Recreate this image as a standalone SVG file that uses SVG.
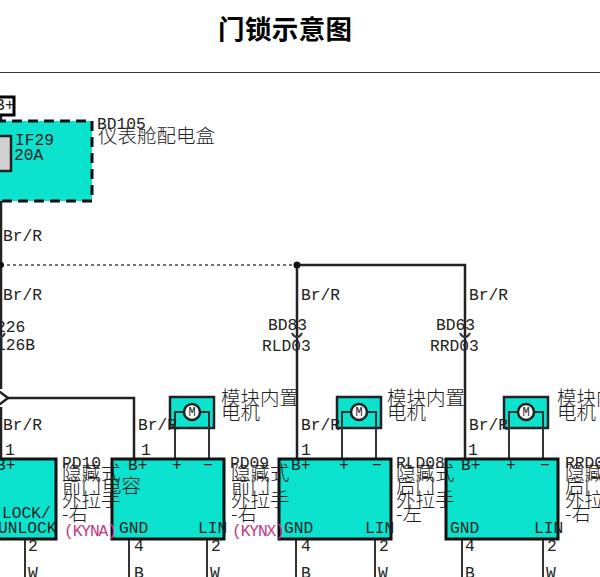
<svg xmlns="http://www.w3.org/2000/svg" width="600" height="577" viewBox="0 0 600 577">
<style>
text{font-family:"Liberation Mono","Noto Sans CJK SC",monospace;font-size:16.300px;fill:#222}
.c{font-family:"Noto Sans CJK SC",serif;font-size:19.500px;font-weight:300;fill:#222}
.p{fill:#c8387e}
.t{font-family:"Noto Sans CJK SC",sans-serif;font-size:26.500px;font-weight:700;fill:#000}
.b{fill:#0be3cf;stroke:#111;stroke-width:3}
.w{fill:none;stroke:#222;stroke-width:2.500}
.k{fill:none;stroke:#333;stroke-width:2}
.g{fill:#0be3cf;stroke:#222;stroke-width:2.500}
.o{fill:#fff;stroke:#222;stroke-width:2.500}
.m{font-size:12px;text-anchor:middle}
</style>
<text class="t" x="218" y="39" textLength="134">门锁示意图</text>
<path d="M0 72.500H600" stroke="#333" stroke-width="1"/>
<g id="connectors">
<path class="w" d="M1 115V389M1 407V458M8 398H134V458M297 265V458M297 265H465V458"/>
<path d="M1 265H297" fill="none" stroke="#444" stroke-width="1.500" stroke-dasharray="3 3"/>
<circle cx="1" cy="265" r="3" fill="#111"/><circle cx="297" cy="265" r="3.500" fill="#111"/>
<path class="k" d="M-3 333Q0 337 1 337Q3 337 5 333M292 333Q294 337 297 337Q300 337 302 333M460 333Q462 337 465 337Q468 337 470 333"/>
<path class="k" d="M25 539V577M129 539V577M207 539V577M296 539V577M375 539V577M462 539V577M543 539V577"/>
</g>
<g id="power-tag"><rect x="-6" y="97" width="20" height="18" fill="#fff" stroke="#000" stroke-width="3"/><text x="-5" y="110" font-size="14">B+</text></g>
<g id="BD105">
<rect x="-4" y="121" width="96" height="80" fill="#0be3cf" stroke="#111" stroke-width="3" stroke-dasharray="10 6"/>
<rect x="-6" y="136" width="17" height="35" fill="#d0d0d0" stroke="#222" stroke-width="2.500"/>
<text x="15" y="145">IF29</text><text x="14" y="160">20A</text>
<text x="97" y="129">BD105</text><text class="c" x="98" y="143">仪表舱配电盒</text>
</g>
<g id="junction"><path d="M-4 389L8 398L-4 407" fill="#fff" stroke="#222" stroke-width="2.500"/></g>
<g id="motor1"><rect class="g" x="170" y="397" width="44" height="31"/><path class="k" d="M175 458V412H209V458"/><circle class="o" cx="192" cy="412" r="8"/><text class="m" x="192" y="416">M</text></g>
<g id="motor2"><rect class="g" x="337" y="397" width="44" height="31"/><path class="k" d="M342 458V412H376V458"/><circle class="o" cx="359" cy="412" r="8"/><text class="m" x="359" y="416">M</text></g>
<g id="motor3"><rect class="g" x="504" y="397" width="44" height="31"/><path class="k" d="M509 458V412H543V458"/><circle class="o" cx="526" cy="412" r="8"/><text class="m" x="526" y="416">M</text></g>
<g id="PD10"><rect class="b" x="-6" y="459" width="62" height="80"/>
<text x="-4" y="470">B+</text><text x="2" y="518">LOCK/</text><text x="-2" y="533">UNLOCK</text></g>
<g id="PD09"><rect class="b" x="112" y="459" width="112" height="80"/>
<text x="128" y="470">B+</text><text x="172" y="470">+</text><text x="203" y="470">−</text><text x="119" y="533">GND</text><text x="198" y="533">LIN</text></g>
<g id="RLD08"><rect class="b" x="279" y="459" width="112" height="80"/>
<text x="291" y="470">B+</text><text x="339" y="470">+</text><text x="372" y="470">−</text><text x="284" y="533">GND</text><text x="365" y="533">LIN</text></g>
<g id="RRD08"><rect class="b" x="446" y="459" width="112" height="80"/>
<text x="461" y="470">B+</text><text x="506" y="470">+</text><text x="540" y="470">−</text><text x="450" y="533">GND</text><text x="534" y="533">LIN</text></g>
<g id="wire-labels">
<text x="3" y="241">Br/R</text><text x="3" y="300">Br/R</text><text x="301" y="300">Br/R</text><text x="469" y="300">Br/R</text>
<text x="3" y="430">Br/R</text><text x="138" y="430">Br/R</text><text x="301" y="430">Br/R</text><text x="469" y="430">Br/R</text>
<text x="-4" y="332">226</text><text x="-4" y="350">126B</text>
<text x="268" y="330">BD83</text><text x="262" y="351">RLD03</text>
<text x="436" y="330">BD63</text><text x="430" y="351">RRD03</text>
<text x="5" y="455">1</text><text x="141" y="455">1</text><text x="301" y="455">1</text><text x="468" y="455">1</text>
<text x="28" y="551">2</text><text x="134" y="551">4</text><text x="211" y="551">2</text><text x="301" y="551">4</text><text x="379" y="551">2</text><text x="465" y="551">4</text><text x="547" y="551">2</text>
<text x="28" y="578">W</text><text x="134" y="578">B</text><text x="210" y="578">W</text><text x="301" y="578">B</text><text x="378" y="578">W</text><text x="465" y="578">B</text><text x="546" y="578">W</text>
</g>
<g id="module-labels">
<text class="c" x="221" y="405">模块内置</text><text class="c" x="221" y="420">电机</text>
<text class="c" x="387" y="405">模块内置</text><text class="c" x="387" y="420">电机</text>
<text class="c" x="557" y="405">模块内置</text><text class="c" x="557" y="420">电机</text>
<text x="62" y="468">PD10</text><text class="c" x="62" y="480">隐藏式</text><text class="c" x="62" y="493">前门</text><text class="c" x="102" y="493">电容</text><text class="c" x="62" y="507">外拉手</text><text class="c" x="62" y="521">-右</text><text class="p" x="64" y="536" textLength="53">(KYNA)</text>
<text x="230" y="468">PD09</text><text class="c" x="231" y="480">隐藏式</text><text class="c" x="231" y="493">前门</text><text class="c" x="231" y="507">外拉手</text><text class="c" x="231" y="521">-右</text><text class="p" x="232" y="536" textLength="53">(KYNX)</text>
<text x="396" y="468">RLD08</text><text class="c" x="396" y="480">隐藏式</text><text class="c" x="396" y="493">后门</text><text class="c" x="396" y="507">外拉手</text><text class="c" x="396" y="521">-左</text>
<text x="565" y="468">RRD08</text><text class="c" x="565" y="480">隐藏式</text><text class="c" x="565" y="493">后门</text><text class="c" x="565" y="507">外拉手</text><text class="c" x="565" y="521">-右</text>
</g>
</svg>
